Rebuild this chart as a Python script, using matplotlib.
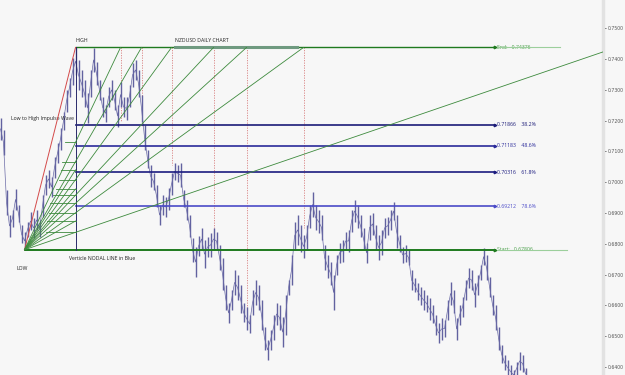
import matplotlib
matplotlib.use("Agg")
import matplotlib.pyplot as plt
import numpy as np

# NZDUSD daily bars, one bar per trading day
highs = [0.7209, 0.7170, 0.6975, 0.6894, 0.6910, 0.6978, 0.6926, 0.6861, 0.6838, 0.6871,
         0.6903, 0.6884, 0.6910, 0.6877, 0.6958, 0.7023, 0.7040, 0.7017, 0.7082, 0.7127,
         0.7176, 0.7228, 0.7299, 0.7338, 0.7403, 0.7438, 0.7397, 0.7364, 0.7332, 0.7290,
         0.7364, 0.7436, 0.7390, 0.7332, 0.7277, 0.7251, 0.7309, 0.7332, 0.7299, 0.7251,
         0.7325, 0.7277, 0.7277, 0.7316, 0.7387, 0.7397, 0.7364, 0.7283, 0.7186, 0.7105,
         0.7056, 0.7030, 0.6991, 0.6926, 0.6958, 0.6952, 0.6981, 0.7030, 0.7062, 0.7056,
         0.7062, 0.6975, 0.6942, 0.6894, 0.6819, 0.6790, 0.6825, 0.6851, 0.6812, 0.6822,
         0.6835, 0.6851, 0.6838, 0.6796, 0.6754, 0.6666, 0.6608, 0.6650, 0.6715, 0.6699,
         0.6666, 0.6608, 0.6595, 0.6569, 0.6650, 0.6682, 0.6666, 0.6618, 0.6530, 0.6488,
         0.6520, 0.6569, 0.6608, 0.6601, 0.6562, 0.6634, 0.6682, 0.6764, 0.6871, 0.6894,
         0.6861, 0.6829, 0.6861, 0.6926, 0.6968, 0.6926, 0.6910, 0.6894, 0.6796, 0.6764,
         0.6741, 0.6699, 0.6764, 0.6803, 0.6812, 0.6838, 0.6845, 0.6910, 0.6942, 0.6926,
         0.6894, 0.6851, 0.6803, 0.6894, 0.6900, 0.6861, 0.6829, 0.6845, 0.6884, 0.6887,
         0.6910, 0.6936, 0.6894, 0.6829, 0.6790, 0.6796, 0.6780, 0.6715, 0.6689, 0.6673,
         0.6660, 0.6650, 0.6634, 0.6624, 0.6601, 0.6569, 0.6543, 0.6559, 0.6553, 0.6618,
         0.6676, 0.6650, 0.6559, 0.6601, 0.6627, 0.6682, 0.6721, 0.6715, 0.6673, 0.6699,
         0.6731, 0.6785, 0.6764, 0.6692, 0.6634, 0.6601, 0.6530, 0.6471, 0.6439, 0.6423,
         0.6406, 0.6390, 0.6416, 0.6449, 0.6439, 0.6397]
lows = [0.7137, 0.7088, 0.6894, 0.6822, 0.6855, 0.6910, 0.6871, 0.6803, 0.6781, 0.6822,
        0.6845, 0.6819, 0.6845, 0.6822, 0.6887, 0.6958, 0.6981, 0.6952, 0.7014, 0.7062,
        0.7105, 0.7170, 0.7228, 0.7277, 0.7316, 0.7348, 0.7299, 0.7277, 0.7244, 0.7192,
        0.7277, 0.7358, 0.7316, 0.7267, 0.7212, 0.7196, 0.7244, 0.7267, 0.7234, 0.7179,
        0.7244, 0.7212, 0.7202, 0.7244, 0.7309, 0.7332, 0.7277, 0.7196, 0.7105, 0.7046,
        0.6984, 0.6975, 0.6920, 0.6861, 0.6894, 0.6887, 0.6910, 0.6958, 0.7007, 0.7001,
        0.6984, 0.6920, 0.6877, 0.6822, 0.6741, 0.6692, 0.6760, 0.6780, 0.6721, 0.6757,
        0.6757, 0.6780, 0.6780, 0.6715, 0.6650, 0.6585, 0.6543, 0.6585, 0.6634, 0.6618,
        0.6575, 0.6546, 0.6520, 0.6510, 0.6569, 0.6601, 0.6585, 0.6520, 0.6455, 0.6423,
        0.6455, 0.6488, 0.6536, 0.6520, 0.6465, 0.6504, 0.6634, 0.6666, 0.6780, 0.6796,
        0.6773, 0.6754, 0.6780, 0.6851, 0.6887, 0.6845, 0.6835, 0.6812, 0.6715, 0.6689,
        0.6666, 0.6585, 0.6699, 0.6738, 0.6741, 0.6780, 0.6773, 0.6838, 0.6871, 0.6851,
        0.6822, 0.6780, 0.6738, 0.6812, 0.6829, 0.6780, 0.6747, 0.6764, 0.6819, 0.6829,
        0.6845, 0.6877, 0.6786, 0.6773, 0.6738, 0.6741, 0.6731, 0.6650, 0.6643, 0.6618,
        0.6601, 0.6585, 0.6579, 0.6553, 0.6543, 0.6504, 0.6478, 0.6488, 0.6497, 0.6553,
        0.6601, 0.6575, 0.6488, 0.6536, 0.6562, 0.6618, 0.6656, 0.6650, 0.6595, 0.6634,
        0.6682, 0.6731, 0.6682, 0.6627, 0.6569, 0.6520, 0.6455, 0.6413, 0.6390, 0.6374,
        0.6364, 0.6358, 0.6374, 0.6390, 0.6384, 0.6358]

# impulse wave anchors
LOW_BAR, HIGH_BAR = 8, 25
START, END = 0.67806, 0.74376
fib_levels = [0.71866, 0.71183, 0.70316, 0.69212]
fib_pcts = ["38.2%", "48.6%", "61.8%", "78.6%"]
fib_colors = ["#1c1c78", "#2a2a9a", "#1c1c80", "#4b4bc8"]

# fan lines from LOW to the END line, and the long one to the right edge
fan_top_bars = [40, 47, 57, 71, 82, 101]
dotted_bottoms = [0.7196, 0.7179, 0.7056, 0.6781, 0.6546, 0.6851]
long_fan = (200.8, 0.7423)
short_fans = [0.7040, 0.6978, 0.6874]          # fan lines ending on the nodal line
tick_left = [21.5, 20.5, 20.0, 19.5, 18.5, 17.5, 16.5, 16.0, 15.5, 15.0]
LEVEL_END = 164.8

BG = "#f7f7f7"
fig = plt.figure(figsize=(6.25, 3.75), dpi=100, facecolor=BG)
ax = fig.add_axes([0, 0, 603 / 625, 1])
ax.set_facecolor(BG)
plt.rcParams["font.family"] = ["Open Sans", "DejaVu Sans"]
FS = 3.7

x = np.arange(len(highs))
h, l = np.array(highs), np.array(lows)
ax.vlines(x, l, h, color="#6262a0", lw=1.0, zorder=3)
ax.plot(x, (h + l) / 2, color="#6a6aa6", lw=0.5, zorder=3)

# level lines
ax.plot([HIGH_BAR, LEVEL_END], [END, END], color="#1f7a1f", lw=1.0, zorder=4)
ax.plot([LEVEL_END, 186.5], [END, END], color="#9ccf9c", lw=0.8, zorder=4)
ax.plot([58.2, 98.8], [END, END], color="#6f9a80", lw=2.2, zorder=4)
ax.plot([LOW_BAR, LEVEL_END], [START, START], color="#1f7a1f", lw=1.4, zorder=4)
ax.plot([LEVEL_END, 188.8], [START, START], color="#9ccf9c", lw=0.8, zorder=4)
for lv, c in zip(fib_levels, fib_colors):
    ax.plot([HIGH_BAR, LEVEL_END], [lv, lv], color=c, lw=1.2, zorder=4)
for lv, c in zip([END] + fib_levels + [START], ["#1f7a1f"] + fib_colors + ["#1f7a1f"]):
    ax.plot([LEVEL_END], [lv], marker=">", ms=1.8, color=c, zorder=5)

# labels at level ends
ax.text(LEVEL_END + 0.8, END, "End:   0.74376", color="#4aa04a", fontsize=FS, va="center")
ax.text(LEVEL_END + 0.8, START, "Start:   0.67806", color="#4aa04a", fontsize=FS, va="center")
for lv, p, c in zip(fib_levels, fib_pcts, fib_colors):
    ax.text(LEVEL_END + 0.8, lv, f"{lv:.5f}    {p}", color=c, fontsize=FS, va="center")

# nodal line and impulse
ax.plot([HIGH_BAR, HIGH_BAR], [START, END], color="#2a2a6a", lw=0.7, zorder=4)
ax.plot([LOW_BAR, HIGH_BAR], [START, END], color="#d44a4a", lw=0.7, zorder=4)

nodal = []
for bx, yb in zip(fan_top_bars, dotted_bottoms):
    ax.plot([LOW_BAR, bx], [START, END], color="#3d8a3d", lw=0.6, zorder=4)
    ax.plot([bx, bx], [END, yb], color="#d88080", lw=0.6, ls=(0, (1.5, 1.5)), zorder=2)
    nodal.append(START + (END - START) * (HIGH_BAR - LOW_BAR) / (bx - LOW_BAR))
ax.plot([LOW_BAR, long_fan[0]], [START, long_fan[1]], color="#3d8a3d", lw=0.6, zorder=4)
nodal.append(START + (long_fan[1] - START) * (HIGH_BAR - LOW_BAR) / (long_fan[0] - LOW_BAR))
for lv in short_fans:
    ax.plot([LOW_BAR, HIGH_BAR], [START, lv], color="#3d8a3d", lw=0.6, zorder=4)
    nodal.append(lv)
for lv, xl in zip(sorted(nodal, reverse=True), tick_left):
    ax.plot([xl, HIGH_BAR], [lv, lv], color="#3d8a3d", lw=0.6, zorder=4)

ax.text(HIGH_BAR, 0.7459, "HIGH", fontsize=FS, color="#222", va="center")
ax.text(58.2, 0.7459, "NZDUSD DAILY CHART", fontsize=FS, color="#222", va="center")
ax.text(3.5, 0.7208, "Low to High Impulse Wave", fontsize=FS, color="#222", va="center")
ax.text(5.2, 0.6721, "LOW", fontsize=FS, color="#222", va="center")
ax.text(22.8, 0.6751, "Verticle NODAL LINE in Blue", fontsize=FS, color="#222", va="center")

ax.set_xlim(-0.17, 200.8)
ax.set_ylim(0.6374, 0.75916)
ax.yaxis.tick_right()
ax.set_yticks(np.arange(0.64, 0.7501, 0.01))
ax.yaxis.set_major_formatter(matplotlib.ticker.FormatStrFormatter("%.4f"))
ax.tick_params(axis="y", labelsize=3.3, colors="#555", length=2.5, width=0.6, pad=1.2)
ax.set_xticks([])
for s in ("left", "top", "bottom"):
    ax.spines[s].set_visible(False)
ax.spines["right"].set_color("#e2e2e2")
ax.spines["right"].set_linewidth(2.5)

fig.savefig("out.png", dpi=100, facecolor=BG)
